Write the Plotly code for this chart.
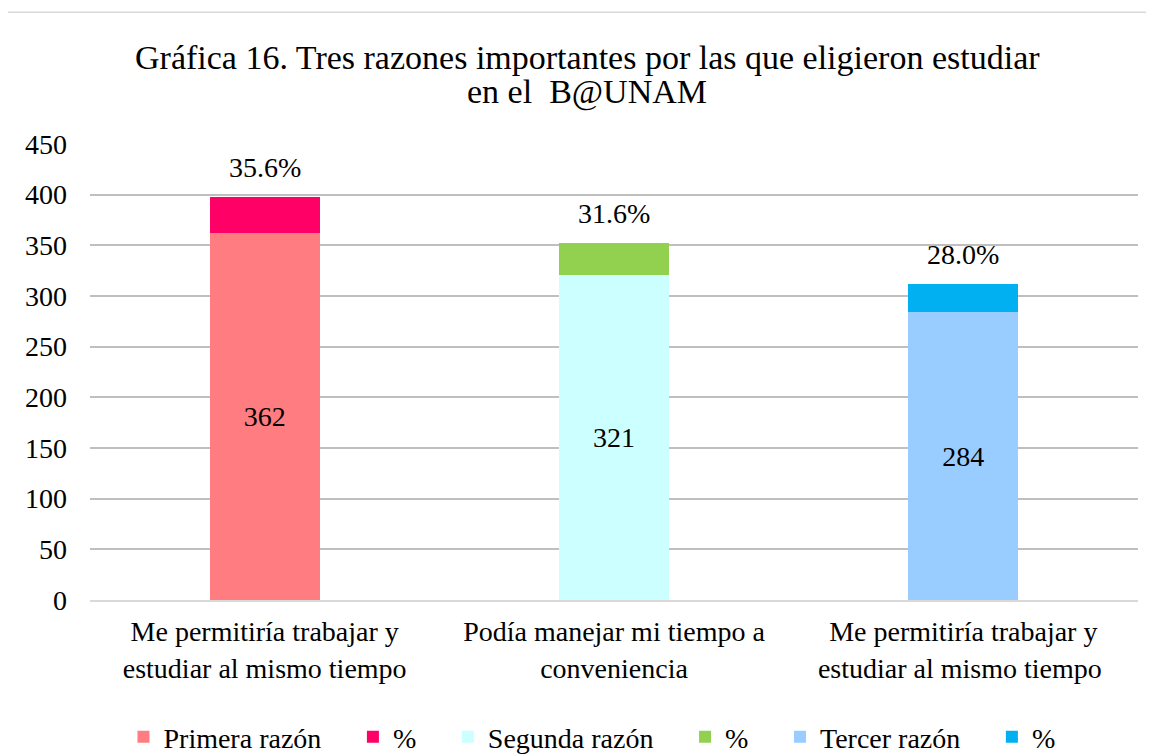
import plotly.graph_objects as go

categories = ["Me permitiría trabajar y<br>estudiar al mismo tiempo",
              "Podía manejar mi tiempo a<br>conveniencia",
              "Me permitiría trabajar y<br>estudiar al mismo tiempo "]
counts = [362, 321, 284]
percents = [35.6, 31.6, 28.0]
count_names = ["Primera razón", "Segunda razón", "Tercer razón"]
count_colors = ["#FF7C80", "#CCFFFF", "#99CCFF"]
pct_colors = ["#FF0066", "#92D050", "#00B0F0"]
title_lines = ["Gráfica 16. Tres razones importantes por las que eligieron estudiar",
               "en el  B@UNAM"]

FONT = "Liberation Serif"
FS = 28
PAD = "\u00a0\u00a0\u00a0\u2009"

fig = go.Figure()
for i in range(3):
    yc = [None] * 3
    yc[i] = counts[i]
    yp = [None] * 3
    yp[i] = percents[i]
    fig.add_trace(go.Bar(
        x=categories, y=yc, name=count_names[i] + PAD,
        marker=dict(color=count_colors[i], line=dict(width=0)),
        text=[str(v) if v is not None else "" for v in yc],
        textposition="inside", insidetextanchor="middle",
        textfont=dict(family=FONT, size=FS, color="black"),
        width=0.315,
    ))
    fig.add_trace(go.Bar(
        x=categories, y=yp, name="%" + (PAD if i < 2 else ""),
        marker=dict(color=pct_colors[i], line=dict(width=0)),
        width=0.315, textposition="none",
    ))
    fig.add_annotation(
        x=categories[i], y=counts[i] + percents[i],
        text=f"{percents[i]:.1f}%", showarrow=False,
        yanchor="bottom", yshift=12,
        font=dict(family=FONT, size=FS, color="black"),
    )

fig.add_annotation(xref="paper", yref="paper", x=0.474, y=1.114, yanchor="middle",
                   text=title_lines[1], showarrow=False,
                   font=dict(family=FONT, size=34, color="black"))

fig.add_shape(type="rect", xref="paper", yref="paper",
              x0=-0.079, x1=1.2, y0=-0.5, y1=1.289,
              line=dict(color="#D9D9D9", width=1.5), fillcolor="rgba(0,0,0,0)",
              layer="below")

fig.update_layout(
    width=1154, height=754,
    margin=dict(l=82, r=24, t=136, b=162, autoexpand=False),
    paper_bgcolor="white", plot_bgcolor="white",
    barmode="stack",
    title=dict(text=title_lines[0], xref="container", yref="container",
               x=0.502, xanchor="center", y=0.935, yanchor="middle",
               font=dict(family=FONT, size=34, color="black")),
    font=dict(family=FONT, size=FS, color="black"),
    showlegend=True,
    legend=dict(orientation="h", x=0.479, xanchor="center", yref="container", y=0.033, yanchor="middle",
                font=dict(family=FONT, size=FS, color="black"),
                itemsizing="constant", traceorder="normal"),
    yaxis=dict(range=[0, 450], dtick=50, showgrid=True, gridcolor="#BFBFBF", gridwidth=1.5,
               zeroline=False, showline=False, ticks="", ticklabelstandoff=22,
               tickfont=dict(family=FONT, size=FS, color="black")),
    xaxis=dict(showline=True, linecolor="#D9D9D9", linewidth=1.5, ticks="",
               tickfont=dict(family=FONT, size=FS, color="black"), ticklabelstandoff=6),
)

fig.write_html("out.html")
